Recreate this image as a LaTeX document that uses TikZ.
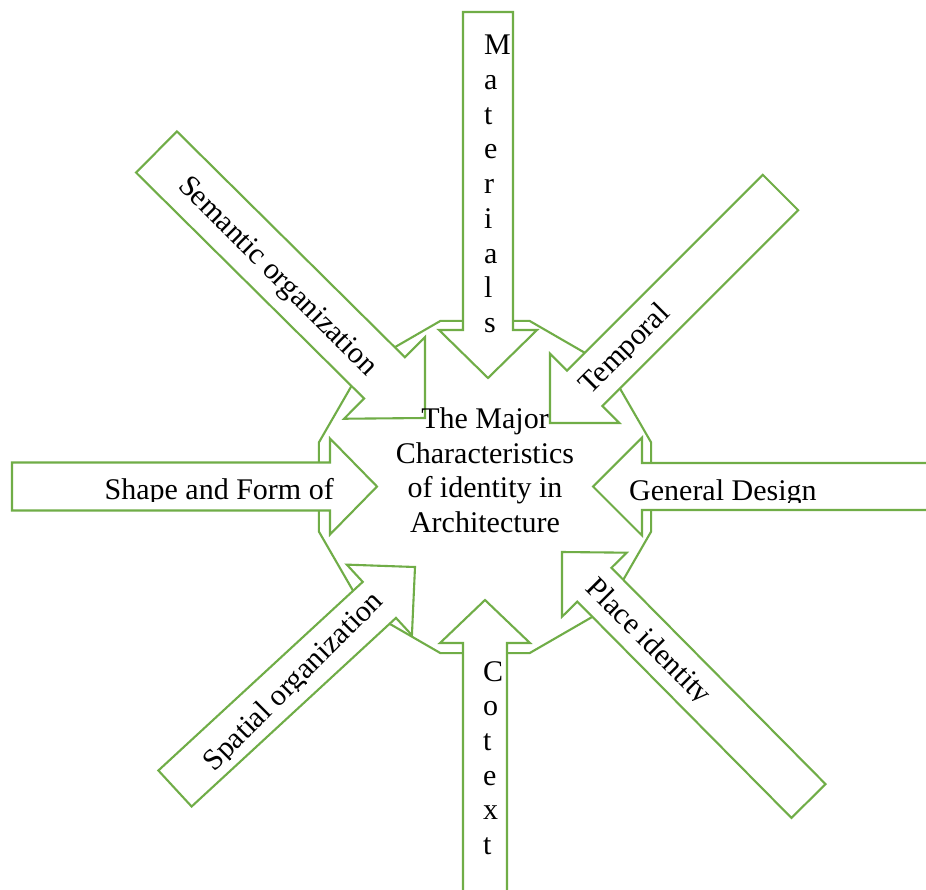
\documentclass[tikz,border=0pt]{standalone}
\usepackage{fontspec}
\setmainfont{Liberation Serif}
\usetikzlibrary{calc}
\definecolor{lgreen}{RGB}{112,173,71}
% name, tail, tip, shaft width, head width, head length
\newcommand{\blockarr}[6]{%
  \coordinate (#1-t) at (#2);
  \coordinate (#1-p) at (#3);
  \coordinate (#1-b) at ($(#1-p)!#6!(#1-t)$);
  \draw[arrowbox] ($(#1-t)!#4/2!90:(#1-p)$) -- ($(#1-b)!#4/2!90:(#1-p)$)
    -- ($(#1-b)!#5/2!90:(#1-p)$) -- (#1-p) -- ($(#1-b)!#5/2!-90:(#1-p)$)
    -- ($(#1-b)!#4/2!-90:(#1-p)$) -- ($(#1-t)!#4/2!-90:(#1-p)$) -- cycle;
}
\begin{document}
\begin{tikzpicture}[x=1pt,y=-1pt,
  arrowbox/.style={draw=lgreen, line width=2.1pt, fill=white, line join=miter},
  corebox/.style={draw=lgreen, line width=2.1pt, fill=white, line join=miter},
  lbl/.style={font=\fontsize{30}{34.7}\selectfont, inner sep=0pt, text=black}]
\useasboundingbox (0,0) rectangle (926,889);
\fill[white] (0,0) rectangle (926,889);
\clip (0,0) rectangle (926,889);
% central dodecagon
\draw[corebox, shift={(485,487)}] (15:172) \foreach \a in {45,75,...,345}{ -- (\a:172)} -- cycle;
% arrows
\blockarr{mat}{488,12}{488,378}{50pt}{98pt}{48pt}
\blockarr{cot}{485,900}{485,600}{44pt}{90pt}{43pt}
\blockarr{shp}{12,486.5}{377,486.5}{48pt}{96pt}{47pt}
\blockarr{gen}{940,486.5}{593,486.5}{47pt}{98pt}{49pt}
\blockarr{sem}{156.5,152}{425,418}{58pt}{115pt}{57pt}
\blockarr{tem}{780.5,192.5}{550,423}{50pt}{98pt}{49pt}
\blockarr{spa}{175,788.5}{415,567}{49pt}{96pt}{48.5pt}
\blockarr{pla}{808.5,801}{562,552}{48pt}{91pt}{46pt}
% texts
\node[lbl, anchor=north, align=center] (title) at (485,407.5)
  {The Major\\Characteristics\\of identity in\\Architecture};
\node[lbl, anchor=north west, align=left] (tmat) at (484,35)
  {M\\a\\t\\e\\r\\i\\a\\l\\s};
\node[lbl, anchor=north west, align=left] (tcot) at (483,661)
  {C\\o\\t\\e\\x\\t};
\begin{scope}
  \clip (0,400) rectangle (400,501);
  \node[lbl, anchor=base east] (tshp) at (334,499) {Shape and Form of};
\end{scope}
\begin{scope}
  \clip (600,400) rectangle (926,502);
  \node[lbl, anchor=base west] (tgen) at (629,500) {General Design};
\end{scope}
\node[lbl, anchor=base, rotate=-45] (tsem) at (272,282) {Semantic organization};
\begin{scope}[shift={(630.75,355.25)}, rotate=45]
  \clip (-120,-60) rectangle (120,2);
  \node[lbl, anchor=base, rotate=45] (ttem) at (0,0) {Temporal};
\end{scope}
\begin{scope}[shift={(299.25,687.75)}, rotate=45]
  \clip (-200,-60) rectangle (200,2);
  \node[lbl, anchor=base, rotate=45] (tspa) at (0,0) {Spatial organization};
\end{scope}
\begin{scope}[shift={(642.5,647.5)}, rotate=-45]
  \clip (-150,-60) rectangle (150,2);
  \node[lbl, anchor=base, rotate=-45] (tpla) at (0,0) {Place identity};
\end{scope}
\end{tikzpicture}
\end{document}
